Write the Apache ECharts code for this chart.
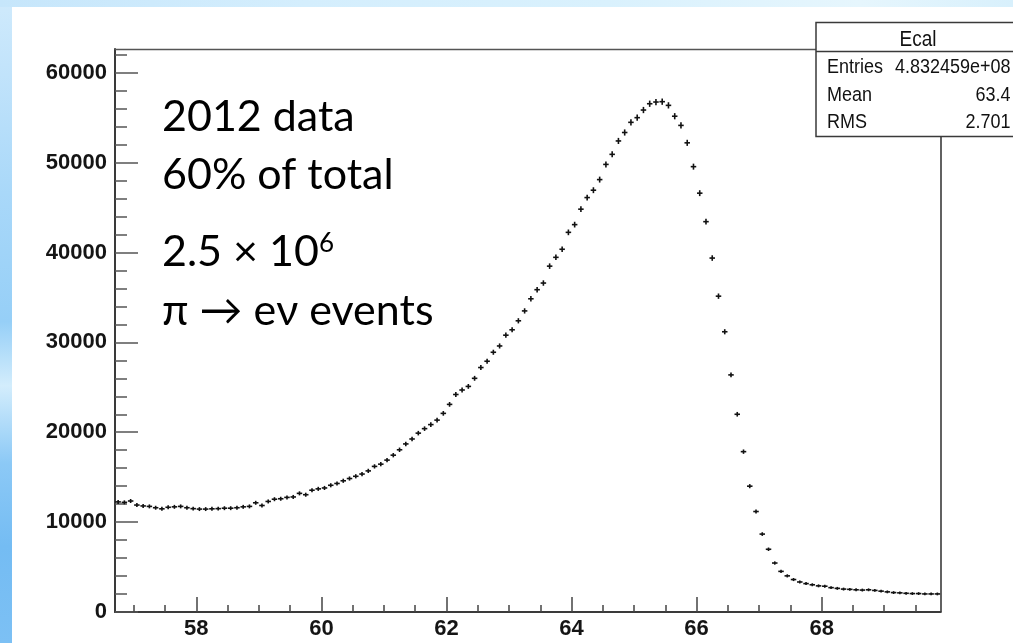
<!DOCTYPE html>
<html>
<head>
<meta charset="utf-8">
<script src="https://cdn.jsdelivr.net/npm/echarts@6/dist/echarts.min.js"></script>
<style>
  html, body { margin: 0; padding: 0; width: 1013px; height: 643px; overflow: hidden; }
  body {
    background: linear-gradient(180deg, #cfeafc 0%, #c3e4fb 10%, #a9d8f9 30%, #96cff7 50%, #d3edfc 60%, #8cc9f6 72%, #74bcf3 85%, #7cc0f4 100%);
  }
  #topband {
    position: absolute; left: 0; top: 0; width: 1013px; height: 7px;
    background: linear-gradient(90deg, #c6e6fb 0%, #d4eefd 30%, #d9f1fd 60%, #e6f6fd 85%, #d8f0fc 100%);
  }
  #panel { position: absolute; left: 12px; top: 7px; width: 1001px; height: 636px; background: #ffffff; }
  #chart { position: absolute; left: 0; top: 0; width: 1013px; height: 643px; }
</style>
</head>
<body>
<div id="topband"></div>
<div id="panel"></div>
<div id="chart"></div>
<script>
// Ecal histogram: 132 bins of width 0.1 starting at 56.7
const binLow = 56.7;
const binWidth = 0.1;
const counts = [
  12250, 12200, 12350, 11900, 11800, 11750, 11600, 11480, 11650, 11700,
  11750, 11600, 11500, 11450, 11450, 11480, 11500, 11550, 11550, 11600,
  11700, 11750, 12150, 11850, 12300, 12550, 12600, 12750, 12800, 13200,
  13050, 13550, 13700, 13800, 14100, 14300, 14600, 14850, 15100, 15350,
  15700, 16200, 16450, 16900, 17450, 18050, 18700, 19250, 19900, 20400,
  20850, 21350, 22100, 23100, 24200, 24700, 25100, 26000, 27200, 27900,
  28900, 29600, 30800, 31400, 32400, 33500, 34850, 35860, 36600, 38480,
  39460, 40360, 42240, 43100, 44820, 46110, 46930, 48110, 49800, 50920,
  52410, 53350, 54480, 55000, 55850, 56550, 56740, 56780, 56370, 55160,
  54140, 52200, 49550, 46600, 43430, 39380, 35140, 31180, 26380, 22000,
  17840, 14000, 11180, 8670, 6980, 5450, 4520, 4020, 3610, 3340,
  3160, 3030, 2910, 2870, 2710, 2630, 2550, 2520, 2470, 2440,
  2470, 2400, 2320, 2240, 2160, 2130, 2080, 2050, 2050, 2010,
  2010, 2010
];

// Axis extents and tick positions
const xMin = 56.7, xMax = 69.9;
const yMin = 0, yMax = 62640;
const xMajorTicks = [58, 60, 62, 64, 66, 68];
const xMinorTicks = [57, 57.5, 58.5, 59, 59.5, 60.5, 61, 61.5, 62.5, 63, 63.5, 64.5, 65, 65.5, 66.5, 67, 67.5, 68.5, 69, 69.5];
const yMajorTicks = [0, 10000, 20000, 30000, 40000, 50000, 60000];
const yMinorTicks = [2000, 4000, 6000, 8000, 12000, 14000, 16000, 18000, 22000, 24000, 26000, 28000,
                     32000, 34000, 36000, 38000, 42000, 44000, 46000, 48000, 52000, 54000, 56000, 58000, 62000];

// Stats box contents
const statsTitle = 'Ecal';
const statsNames = ['Entries', 'Mean', 'RMS'];
const statsValues = ['4.832459e+08', '63.4', '2.701'];

// Annotation lines
const noteLines = ['2012 data', '60% of total'];
const noteExp = ['2.5 \u00d7 10', '6'];
const noteDecay = '\u03c0 \u2192 e\u03bd events';

// Points: [bin centre, content, statistical error]
const points = counts.map((c, i) => [binLow + binWidth * (i + 0.5), c, Math.sqrt(c)]);

const chart = echarts.init(document.getElementById('chart'), null, { renderer: 'canvas' });

const labelFont = { fontFamily: 'Liberation Sans', fontWeight: 'bold', fontSize: 22, color: '#151515' };
const frameColor = '#3a3a3a';

function plainAxis(extra) {
  return Object.assign({
    type: 'value',
    axisLine: { show: false, onZero: false },
    axisTick: { show: false },
    axisLabel: { show: false },
    splitLine: { show: false }
  }, extra);
}

const statsFont = '18px "Liberation Sans", Arial, sans-serif';
const statsRowY = [67.5, 95.5, 122.5];

const graphics = [
  {
    type: 'rect', z: 100,
    shape: { x: 816, y: 22.5, width: 220, height: 114 },
    style: { fill: '#ffffff', stroke: '#3a3a3a', lineWidth: 1.5 }
  },
  {
    type: 'line', z: 101,
    shape: { x1: 816, y1: 51.5, x2: 1013, y2: 51.5 },
    style: { stroke: '#3a3a3a', lineWidth: 1.5 }
  },
  {
    type: 'text', z: 102, x: 918, y: 40, scaleY: 1.15,
    style: { text: statsTitle, font: '19px "Liberation Sans", Arial, sans-serif', fill: '#111',
             align: 'center', verticalAlign: 'middle' }
  }
];
statsNames.forEach((n, k) => {
  graphics.push({
    type: 'text', z: 102, x: 827, y: statsRowY[k], scaleY: 1.15,
    style: { text: n, font: statsFont, fill: '#111', align: 'left', verticalAlign: 'middle' }
  });
  graphics.push({
    type: 'text', z: 102, x: 1010.5, y: statsRowY[k], scaleY: 1.15,
    style: { text: statsValues[k], font: statsFont, fill: '#111', align: 'right', verticalAlign: 'middle' }
  });
});

const noteFont = '43px Lato, "Open Sans", "Noto Sans", "DejaVu Sans", sans-serif';
const noteX = 162;
[[noteLines[0], 117], [noteLines[1], 175], [noteExp[0], 252], [noteDecay, 311]].forEach(([t, y]) => {
  graphics.push({
    type: 'text', z: 90, x: noteX, y: y,
    style: { text: t, font: noteFont, fill: '#000', align: 'left', verticalAlign: 'middle' }
  });
});
graphics.push({
  type: 'text', z: 90, x: 319, y: 244,
  style: { text: noteExp[1], font: '26px Lato, "Open Sans", "Noto Sans", sans-serif', fill: '#000',
           align: 'left', verticalAlign: 'middle' }
});

const option = {
  animation: false,
  backgroundColor: 'transparent',
  grid: { left: 115, right: 72.5, top: 49, bottom: 31, containLabel: false },
  xAxis: [
    {
      type: 'value', min: xMin, max: xMax, position: 'bottom',
      axisLine: { show: true, onZero: false, lineStyle: { color: frameColor, width: 2 } },
      axisTick: { show: true, inside: true, length: 15, customValues: xMajorTicks,
                  lineStyle: { color: '#444', width: 1.5 } },
      axisLabel: Object.assign({ customValues: xMajorTicks, margin: 6, formatter: v => String(v) }, labelFont),
      splitLine: { show: false }
    },
    plainAxis({
      min: xMin, max: xMax, position: 'bottom',
      axisTick: { show: true, inside: true, length: 7, customValues: xMinorTicks,
                  lineStyle: { color: '#444', width: 1.5 } }
    }),
    plainAxis({
      min: xMin, max: xMax, position: 'top',
      axisLine: { show: true, onZero: false, lineStyle: { color: '#555', width: 1.3 } }
    })
  ],
  yAxis: [
    {
      type: 'value', min: yMin, max: yMax, position: 'left',
      axisLine: { show: true, onZero: false, lineStyle: { color: frameColor, width: 2 } },
      axisTick: { show: true, inside: true, length: 23, customValues: yMajorTicks,
                  lineStyle: { color: '#555', width: 1.5 } },
      axisLabel: Object.assign({ customValues: yMajorTicks, margin: 8, formatter: v => String(v) }, labelFont),
      splitLine: { show: false }
    },
    plainAxis({
      min: yMin, max: yMax, position: 'left',
      axisTick: { show: true, inside: true, length: 12, customValues: yMinorTicks,
                  lineStyle: { color: '#555', width: 1.5 } }
    }),
    plainAxis({
      min: yMin, max: yMax, position: 'right',
      axisLine: { show: true, onZero: false, lineStyle: { color: frameColor, width: 1.6 } }
    })
  ],
  series: [
    {
      type: 'custom',
      xAxisIndex: 0, yAxisIndex: 0,
      clip: true,
      data: points,
      renderItem: function (params, api) {
        const x = api.value(0), y = api.value(1), e = api.value(2);
        const half = binWidth * 0.44;
        const l = api.coord([x - half, y]);
        const r = api.coord([x + half, y]);
        const t = api.coord([x, y + e]);
        const b = api.coord([x, y - e]);
        const st = { stroke: '#111', lineWidth: 1.6 };
        return {
          type: 'group',
          children: [
            { type: 'line', shape: { x1: l[0], y1: l[1], x2: r[0], y2: r[1] }, style: st },
            { type: 'line', shape: { x1: t[0], y1: t[1] - 1, x2: b[0], y2: b[1] + 1 }, style: st }
          ]
        };
      }
    }
  ],
  graphic: graphics
};

chart.setOption(option);
</script>
</body>
</html>
